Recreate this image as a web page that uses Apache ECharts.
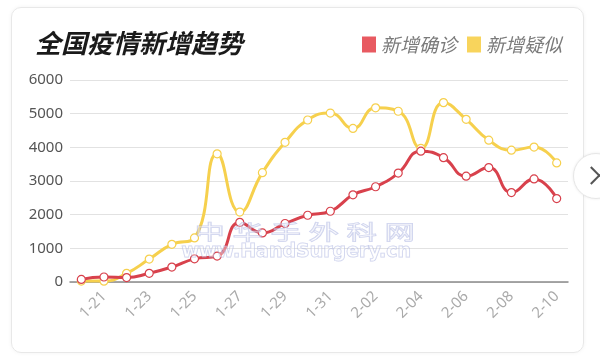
<!DOCTYPE html>
<html>
<head>
<meta charset="utf-8">
<script src="https://cdn.jsdelivr.net/npm/echarts@6/dist/echarts.min.js"></script>
<style>
html,body{margin:0;padding:0;background:#fff;}
#card{position:absolute;left:11px;top:7px;width:571px;height:344px;border:1px solid #e8e8e8;border-radius:10px;box-shadow:0 0 4px rgba(0,0,0,0.05);}
#chart{position:absolute;left:0;top:0;width:600px;height:359px;}
#btn{position:absolute;left:573px;top:153px;width:44px;height:44px;border-radius:50%;background:#fff;border:1px solid #e6e6e6;box-shadow:0 0 3px rgba(0,0,0,0.08);}
#btn i{position:absolute;left:11px;top:15px;width:11px;height:11px;border-top:2px solid #555;border-right:2px solid #555;transform:rotate(45deg);}
</style>
</head>
<body>
<div id="card"></div>
<div id="chart"></div>
<div id="btn"><i></i></div>
<script>
const categories = ['1-20','1-21','1-22','1-23','1-24','1-25','1-26','1-27','1-28','1-29','1-30','1-31','2-01','2-02','2-03','2-04','2-05','2-06','2-07','2-08','2-09','2-10'];
const confirmed = [77,149,131,259,444,688,769,1771,1459,1737,1982,2102,2590,2829,3235,3887,3694,3143,3399,2656,3062,2478];
const suspected = [27,26,257,680,1118,1309,3806,2077,3248,4148,4812,5019,4562,5173,5072,3971,5328,4833,4214,3916,4008,3536];
const yTicks = [0,1000,2000,3000,4000,5000,6000];
const watermarkChars = ['中','华','手','外','科','网'];
const watermarkUrl = 'www.HandSurgery.cn';

const chart = echarts.init(document.getElementById('chart'), null, {renderer:'canvas'});
const RED = '#d8414c', YEL = '#f6d04d';
const wmStyle = {fill:'rgba(255,255,255,0.35)', stroke:'rgba(160,170,220,0.55)', lineWidth:1};
const graphics = watermarkChars.map(function(ch, i){
  return {type:'text', left:194 + i*38, top:222, z:100, scaleX:1.5,
    style:Object.assign({text:ch, fontSize:20, fontFamily:'"Noto Sans CJK SC"'}, wmStyle)};
});
graphics.push({type:'text', left:181, top:242, z:100,
  style:Object.assign({text:watermarkUrl, fontSize:19, fontWeight:'bold', fontFamily:'"DejaVu Sans"'}, wmStyle)});

chart.setOption({
  animation:false,
  title:{text:'全国疫情新增趋势', left:30, top:25,
    textStyle:{fontSize:26, fontWeight:'bold', fontStyle:'italic', color:'#1a1a1a', fontFamily:'"Noto Sans CJK SC"'}},
  legend:{right:33, top:30, itemWidth:14, itemHeight:16, itemGap:10, icon:'rect',
    textStyle:{fontSize:19, fontStyle:'italic', color:'#7a7a7a', fontFamily:'"Noto Sans CJK SC"'},
    data:[{name:'新增确诊', itemStyle:{color:'#e85a61', borderWidth:0}},{name:'新增疑似', itemStyle:{color:'#f8d45c', borderWidth:0}}]},
  grid:{left:70, right:32, top:80, bottom:77},
  xAxis:{type:'category', data:categories, boundaryGap:true,
    axisLine:{lineStyle:{color:'#8a8a8a', width:1.5}},
    axisTick:{show:false},
    axisLabel:{rotate:45, color:'#aaa', fontSize:15, margin:12, fontFamily:'"Noto Sans"',
      interval:function(i){return i%2===1;}}},
  yAxis:{type:'value', min:yTicks[0], max:yTicks[yTicks.length-1], interval:1000,
    axisLine:{show:false}, axisTick:{show:false},
    axisLabel:{color:'#555', fontSize:15, margin:7, fontFamily:'"Noto Sans"', formatter:function(v){return String(v);}},
    splitLine:{lineStyle:{color:'#e2e2e2', width:1}}},
  graphic:graphics,
  series:[
    {name:'新增疑似', type:'line', data:suspected, smooth:true, symbol:'circle', symbolSize:8, z:2,
      lineStyle:{color:YEL, width:3}, itemStyle:{color:'#fff', borderColor:YEL, borderWidth:1.2}, color:YEL},
    {name:'新增确诊', type:'line', data:confirmed, smooth:true, symbol:'circle', symbolSize:8, z:3,
      lineStyle:{color:RED, width:3}, itemStyle:{color:'#fff', borderColor:RED, borderWidth:1.2}, color:RED}
  ]
});
</script>
</body>
</html>
